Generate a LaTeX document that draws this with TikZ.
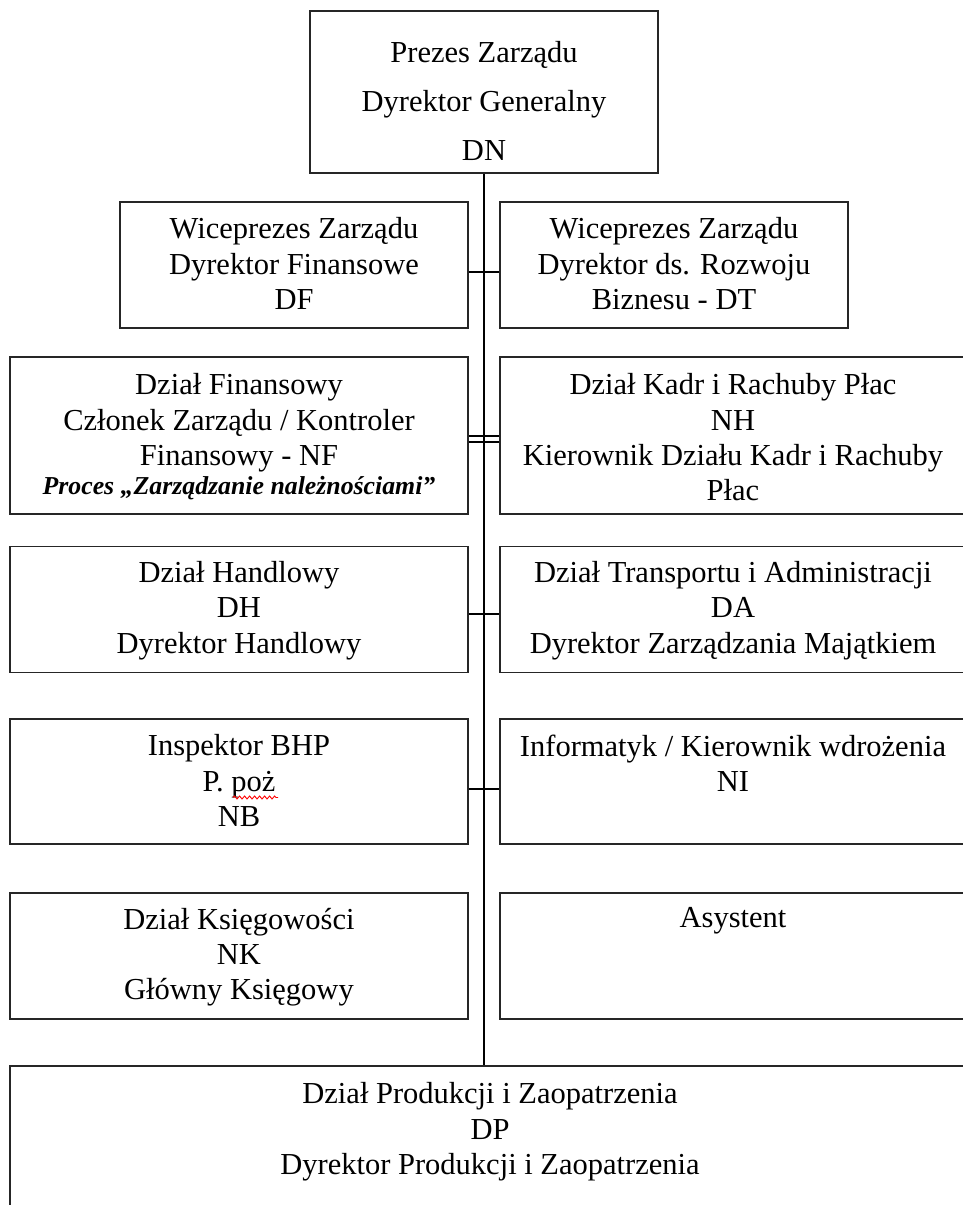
\documentclass[tikz,border=0pt]{standalone}
\usepackage{fontspec}
\setmainfont{Liberation Serif}
\usepackage{tikz}
\usetikzlibrary{positioning,decorations.pathmorphing}

\begin{document}
\begin{tikzpicture}[x=0.5pt,y=-0.5pt,
  box/.style={draw=black!85, line width=0.75pt, rectangle, inner sep=0pt},
  leftbox/.style={box, minimum width=229pt},
  rightbox/.style={box, minimum width=233pt},
  txt/.style={align=center, inner sep=0pt, font=\fontsize{15.25pt}{17.6pt}\selectfont},
  link/.style={black, line width=0.65pt},
  spellwave/.style={red, line width=0.45pt, decorate, decoration={snake, segment length=2.5pt, amplitude=0.75pt}}]
\path[use as bounding box, clip] (0,0) rectangle (963,1205);
% boxes
\node[box, minimum width=174pt, minimum height=81pt] (dn) at (484,92) {};
\node[box, minimum width=174pt, minimum height=63pt] (df) at (294,265) {};
\node[box, minimum width=174pt, minimum height=63pt] (dt) at (674,265) {};
\node[leftbox, minimum height=78.5pt] (nf) at (239,435.5) {};
\node[rightbox, minimum height=78.5pt] (nh) at (733,435.5) {};
\node[leftbox, minimum height=63pt] (dh) at (239,609.7) {};
\node[rightbox, minimum height=63pt] (da) at (733,609.7) {};
\node[leftbox, minimum height=62.5pt] (nb) at (239,781.5) {};
\node[rightbox, minimum height=62.5pt] (ni) at (733,781.5) {};
\node[leftbox, minimum height=63pt] (nk) at (239,956) {};
\node[rightbox, minimum height=63pt] (asy) at (733,956) {};
\node[box, minimum width=480pt, minimum height=74.5pt] (dp) at (490,1140.5) {};
% texts
\node[txt, font=\fontsize{15.25pt}{24.5pt}\selectfont, below=15.4pt of dn.north] (dntxt)
  {Prezes Zarządu\\Dyrektor Generalny\\DN};
\node[txt, below=8pt of df.north] (dftxt) {Wiceprezes Zarządu\\Dyrektor Finansowe\\DF};
\node[txt, below=8pt of dt.north] (dttxt) {Wiceprezes Zarządu\\Dyrektor ds. Rozwoju\\Biznesu - DT};
\node[txt, below=8.5pt of nf.north] (nftxt) {Dział Finansowy\\Członek Zarządu / Kontroler\\Finansowy - NF\\[-3.1pt]
  {\fontsize{12.9pt}{15pt}\selectfont\bfseries\itshape Proces „Zarządzanie należnościami”}};
\node[txt, below=8.5pt of nh.north] (nhtxt) {Dział Kadr i Rachuby Płac\\NH\\Kierownik Działu Kadr i Rachuby\\Płac};
\node[txt, below=7.6pt of dh.north] (dhtxt) {Dział Handlowy\\DH\\Dyrektor Handlowy};
\node[txt, below=7.6pt of da.north] (datxt) {Dział Transportu i Administracji\\DA\\Dyrektor Zarządzania Majątkiem};
\node[txt, below=8pt of nb.north] (nbtxt) {Inspektor BHP\\P. poż\\NB};
\node[txt, below=8pt of ni.north] (nitxt) {Informatyk / Kierownik wdrożenia\\NI};
\node[txt, below=7.6pt of nk.north] (nktxt) {Dział Księgowości\\NK\\Główny Księgowy};
\node[txt, below=7.6pt of asy.north] (asytxt) {Asystent};
\node[txt, below=8.5pt of dp.north] (dptxt) {Dział Produkcji i Zaopatrzenia\\DP\\Dyrektor Produkcji i Zaopatrzenia};
% spelling mark under "poz"
\coordinate (wavea) at ([xshift=-3pt,yshift=-8pt]nb.center);
\coordinate (waveb) at ([xshift=19.5pt,yshift=-8pt]nb.center);
\draw[spellwave] (wavea) -- (waveb);
% connectors
\draw[link] (dn.south) -- (dn.south |- dp.north);
\draw[link] ([yshift=-3.5pt]df.east) -- ([yshift=-3.5pt]dt.west);
\draw[link] ([yshift=-0.25pt]nf.east) -- ([yshift=-0.25pt]nh.west);
\draw[link] ([yshift=-3.25pt]nf.east) -- ([yshift=-3.25pt]nh.west);
\draw[link] ([yshift=-2.15pt]dh.east) -- ([yshift=-2.15pt]da.west);
\draw[link] ([yshift=-3.75pt]nb.east) -- ([yshift=-3.75pt]ni.west);
\end{tikzpicture}
\end{document}
